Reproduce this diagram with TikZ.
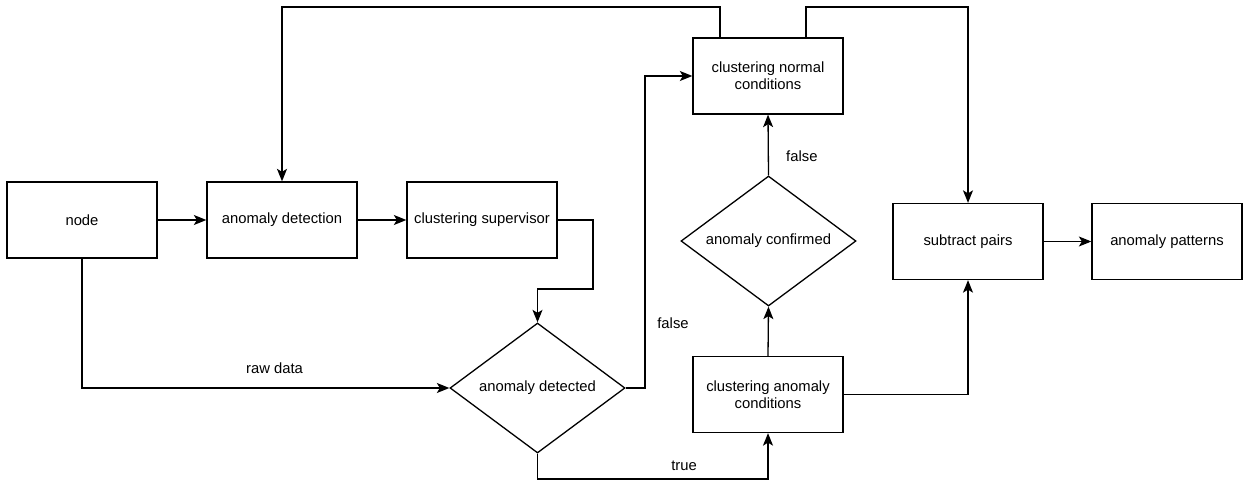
\documentclass[tikz,border=0pt]{standalone}
\usepackage{fontspec}
\setmainfont{Liberation Sans}
\usetikzlibrary{shapes.geometric, arrows.meta}

\begin{document}
\begin{tikzpicture}[x=1pt, y=-1pt,
    every node/.style={font=\fontsize{14.8}{17}\selectfont},
    box/.style={draw, line width=1.3pt, minimum width=150pt, minimum height=76pt, align=center},
    decision/.style={draw, diamond, line width=1.3pt, inner sep=0pt, shape aspect=1.35,
        minimum width=175pt, minimum height=130pt, align=center},
    flow/.style={-{Stealth[length=12.5pt, width=10pt, inset=3pt]}, line width=1.3pt}]
    % Fix the canvas to the reference size (pixels as points, y down)
    \useasboundingbox (0, 0) rectangle (1247, 484);

    % Boxes of the first row
    \node[box] (node) at (82, 220) {node};
    \node[box] (detect) at (282, 220) {anomaly detection};
    \node[box] (supervisor) at (482, 220) {clustering supervisor};

    % Decisions and clustering steps
    \node[decision] (detected) at (537.5, 388) {anomaly detected};
    \node[box] (normal) at (768, 76) {clustering normal\\conditions};
    \node[decision] (confirmed) at (768.5, 241) {anomaly confirmed};
    \node[box] (anomalous) at (768, 394.5) {clustering anomaly\\conditions};

    % Output boxes
    \node[box] (subtract) at (968, 241.5) {subtract pairs};
    \node[box] (patterns) at (1167, 241.5) {anomaly patterns};

    % Connectors
    \draw[flow] (node) -- (detect);
    \draw[flow] (detect) -- (supervisor);
    \draw[flow] (supervisor.east) -| (593, 289) -| (detected.north);
    \draw[flow] (node.south) |- (detected.west) node[pos=0.762, above=10pt] (rawlabel) {raw data};
    \draw[flow] (detected.east) -- (645, 388) |- (normal.west);
    \node (falseleft) at (673, 323) {false};
    \draw[flow] (detected.south) -- (537.5, 479) -| (anomalous.south);
    \node (truelabel) at (684, 466) {true};
    \draw[flow] (anomalous.north) -- (confirmed.south);
    \draw[flow] (confirmed.north) -- (normal.south) node[midway, right=14pt, yshift=-11pt] (falseup) {false};
    \draw[flow] ([xshift=-48pt]normal.north) -- (720, 7) -| (detect.north);
    \draw[flow] ([xshift=38pt]normal.north) -- (806, 7) -| (subtract.north);
    \draw[flow] (anomalous.east) -| (subtract.south);
    \draw[flow] (subtract) -- (patterns);
\end{tikzpicture}
\end{document}
